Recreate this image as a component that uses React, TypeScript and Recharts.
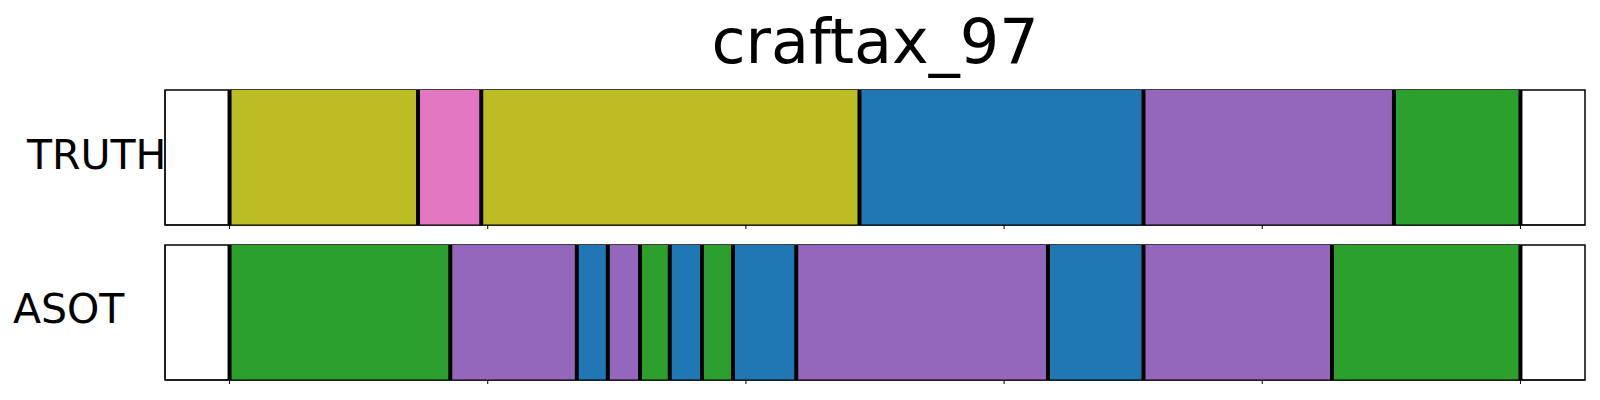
import {
  BarChart,
  Bar,
  ComposedChart,
  XAxis,
  YAxis,
  ReferenceArea,
  ReferenceLine,
} from "recharts"

// segment boundaries (frame index) and class id per segment
const truthBounds = [0, 146, 195, 488, 708, 902, 1000]
const truthClasses = [8, 6, 8, 0, 4, 2]

const asotBounds = [0, 171, 269, 293, 318, 341, 366, 390, 439, 634, 708, 854, 1000]
const asotClasses = [2, 4, 0, 4, 2, 0, 2, 0, 4, 0, 4, 2]

const xTicks = [0, 200, 400, 600, 800, 1000]
const yTicks = [0, 0.25, 0.5, 0.75, 1]

// tab10
const TAB10 = [
  "#1f77b4",
  "#ff7f0e",
  "#2ca02c",
  "#d62728",
  "#9467bd",
  "#8c564b",
  "#e377c2",
  "#7f7f7f",
  "#bcbd22",
  "#17becf",
]

const FONT = "'DejaVu Sans', sans-serif"

const EmptyTick = () => <g />

function SegmentRow({
  name,
  bounds,
  classes,
  height,
  marginTop,
  marginBottom,
}: {
  name: string
  bounds: number[]
  classes: number[]
  height: number
  marginTop: number
  marginBottom: number
}) {
  // one row, one stacked bar per segment (value = segment length)
  const row: Record<string, number | string> = { row: name }
  classes.forEach((_, i) => {
    row[`s${i}`] = bounds[i + 1] - bounds[i]
  })
  const margin = { top: marginTop, right: 15, bottom: marginBottom, left: 150 }

  return (
    <div style={{ position: "relative", width: 1600, height }}>
      <div style={{ position: "absolute", left: 0, top: 0 }}>
        <BarChart
          width={1600}
          height={height}
          data={[row]}
          layout="vertical"
          barCategoryGap={0}
          margin={{ ...margin, left: 165 }}
        >
          <XAxis
            type="number"
            domain={[-50, 1050]}
            ticks={xTicks}
            allowDataOverflow
            interval={0}
            tick={EmptyTick}
            tickSize={4}
            height={15}
            stroke="#000"
          />
          <YAxis type="category" dataKey="row" hide width={0} />
          {classes.map((c, i) => (
            <Bar
              key={`seg-${i}`}
              dataKey={`s${i}`}
              stackId="a"
              fill={TAB10[c]}
              isAnimationActive={false}
            />
          ))}
          {bounds.map((b, i) => (
            <ReferenceLine key={`b-${i}`} x={b} stroke="#000" strokeWidth={4} />
          ))}
          <ReferenceArea
            x1={-50}
            x2={1050}
            fill="none"
            fillOpacity={0}
            stroke="#000"
            strokeWidth={1.5}
          />
        </BarChart>
      </div>
      {/* numeric 0..1 y axis (matplotlib-style ticks, no labels) */}
      <div style={{ position: "absolute", left: 0, top: 0, pointerEvents: "none" }}>
        <ComposedChart width={1600} height={height} data={[]} margin={margin}>
          <XAxis
            type="number"
            domain={[-50, 1050]}
            axisLine={false}
            tickLine={false}
            tick={false}
            height={15}
          />
          <YAxis
            type="number"
            domain={[0, 1]}
            ticks={yTicks}
            interval={0}
            tick={EmptyTick}
            tickSize={4}
            width={15}
            stroke="#000"
          />
        </ComposedChart>
      </div>
    </div>
  )
}

export default function App() {
  return (
    <div
      style={{
        position: "absolute",
        left: 0,
        top: 0,
        width: 1600,
        height: 400,
        background: "#fff",
      }}
    >
      <div style={{ position: "absolute", left: 0, top: 0 }}>
        <SegmentRow
          name="TRUTH"
          bounds={truthBounds}
          classes={truthClasses}
          height={240}
          marginTop={90}
          marginBottom={0}
        />
      </div>
      <div style={{ position: "absolute", left: 0, top: 240 }}>
        <SegmentRow
          name="ASOT"
          bounds={asotBounds}
          classes={asotClasses}
          height={160}
          marginTop={5}
          marginBottom={5}
        />
      </div>
      <svg
        width={1600}
        height={400}
        style={{ position: "absolute", left: 0, top: 0, pointerEvents: "none" }}
      >
        <text x={875} y={63} textAnchor="middle" fontFamily={FONT} fontSize={62} fill="#000">
          craftax_97
        </text>
        <text x={27} y={169} fontFamily={FONT} fontSize={41} fill="#000">
          TRUTH
        </text>
        <text x={13} y={323} fontFamily={FONT} fontSize={41} fill="#000">
          ASOT
        </text>
      </svg>
    </div>
  )
}
